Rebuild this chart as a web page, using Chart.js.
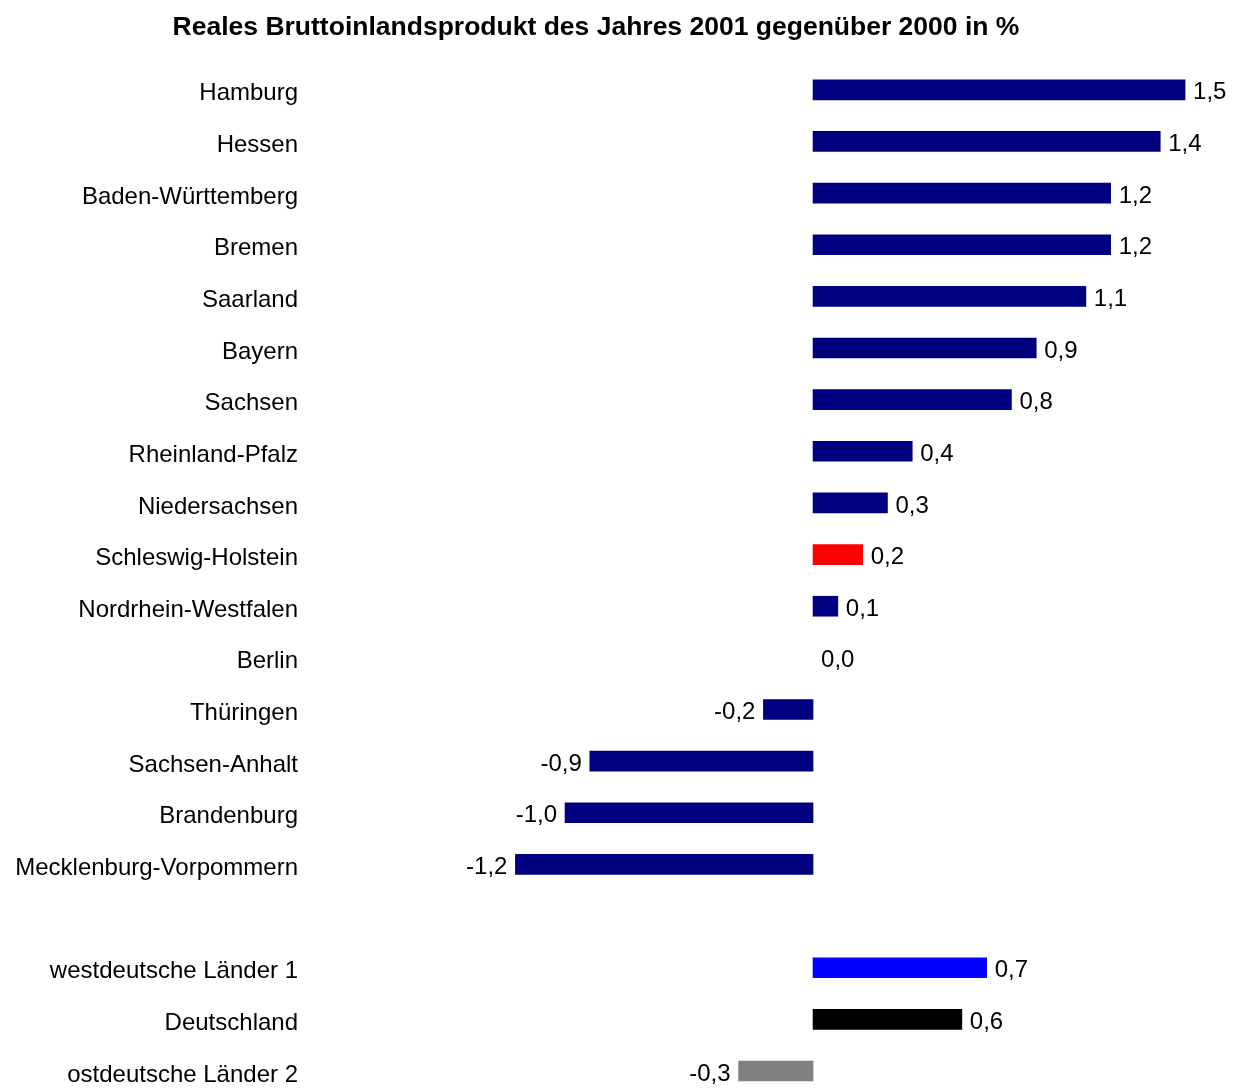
<!DOCTYPE html>
<html>
<head>
<meta charset="utf-8">
<script src="https://cdn.jsdelivr.net/npm/chart.js@4/dist/chart.umd.min.js"></script>
<style>
  html, body { margin: 0; padding: 0; background: #fff; }
  #wrap { width: 1244px; height: 1088px; position: relative; }
</style>
</head>
<body>
<div id="wrap"><canvas id="chart"></canvas></div>
<script>
const categories = [
  'Hamburg', 'Hessen', 'Baden-Württemberg', 'Bremen', 'Saarland', 'Bayern',
  'Sachsen', 'Rheinland-Pfalz', 'Niedersachsen', 'Schleswig-Holstein',
  'Nordrhein-Westfalen', 'Berlin', 'Thüringen', 'Sachsen-Anhalt',
  'Brandenburg', 'Mecklenburg-Vorpommern', '',
  'westdeutsche Länder 1', 'Deutschland', 'ostdeutsche Länder 2'
];
const values = [1.5, 1.4, 1.2, 1.2, 1.1, 0.9, 0.8, 0.4, 0.3, 0.2, 0.1, 0.0,
  -0.2, -0.9, -1.0, -1.2, null, 0.7, 0.6, -0.3];
const barColors = [
  '#000080', '#000080', '#000080', '#000080', '#000080', '#000080',
  '#000080', '#000080', '#000080', '#FF0000', '#000080', 'rgba(0,0,0,0)',
  '#000080', '#000080', '#000080', '#000080', '#000080',
  '#0000FF', '#000000', '#808080'
];

const fontFamily = '"Liberation Sans", Arial, sans-serif';

// value labels next to each bar, German decimal comma
const valueLabels = {
  id: 'valueLabels',
  afterDatasetsDraw(chart) {
    const ctx = chart.ctx;
    const meta = chart.getDatasetMeta(0);
    const zeroX = chart.scales.x.getPixelForValue(0);
    ctx.save();
    ctx.font = '24px ' + fontFamily;
    ctx.fillStyle = '#000';
    ctx.textBaseline = 'middle';
    meta.data.forEach((bar, i) => {
      const v = values[i];
      if (v === null) return;
      const txt = v.toFixed(1).replace('.', ',');
      if (v < 0) {
        ctx.textAlign = 'right';
        ctx.fillText(txt, bar.x - 8, bar.y + 3);
      } else {
        ctx.textAlign = 'left';
        ctx.fillText(txt, Math.max(bar.x, zeroX) + 8, bar.y + 3);
      }
    });
    ctx.restore();
  }
};

new Chart(document.getElementById('chart'), {
  type: 'bar',
  data: {
    labels: categories,
    datasets: [{
      data: values,
      backgroundColor: barColors,
      barThickness: 20,
      clip: false
    }]
  },
  options: {
    indexAxis: 'y',
    responsive: true,
    maintainAspectRatio: false,
    animation: false,
    layout: { padding: { top: 0, bottom: 17, right: 52 } },
    plugins: {
      legend: { display: false },
      tooltip: { enabled: false },
      title: {
        display: true,
        text: 'Reales Bruttoinlandsprodukt des Jahres 2001 gegenüber 2000 in %',
        color: '#000',
        font: { family: fontFamily, size: 26.5, weight: 'bold' },
        padding: { top: 12, bottom: 46 }
      }
    },
    scales: {
      x: {
        min: -2.0,
        max: 1.528,
        display: false,
        grid: { display: false }
      },
      y: {
        offset: false,
        grid: { display: false, drawTicks: false },
        border: { display: false },
        afterFit(scale) {
          scale.width = 317;
          scale.paddingTop = 0;
          scale.paddingBottom = 0;
        },
        ticks: {
          autoSkip: false,
          color: '#000',
          padding: 19,
          labelOffset: 4,
          font: { family: fontFamily, size: 24 }
        }
      }
    }
  },
  plugins: [valueLabels]
});
</script>
</body>
</html>
